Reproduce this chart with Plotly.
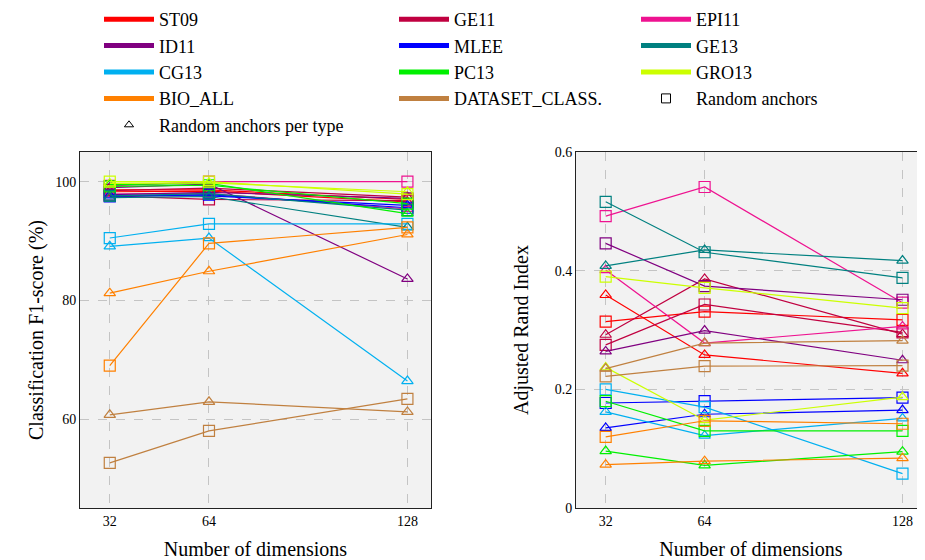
import plotly.graph_objects as go

DIMS = [32, 64, 128]
DATASETS = ["ST09", "GE11", "EPI11", "ID11", "MLEE", "GE13", "CG13",
            "PC13", "GRO13", "BIO_ALL", "DATASET_CLASS."]
COLORS = ["#FF0000", "#C00040", "#EE1290", "#800080", "#0000FF", "#008080",
          "#00B0F0", "#00F000", "#CCFF00", "#FF8000", "#C08040"]

# Classification F1-score (%) - random anchors (squares)
F1_RANDOM = [
    [98.6, 98.6, 97.0],   # ST09
    [97.6, 97.0, 96.8],   # GE11
    [99.3, 100.0, 100.0], # EPI11
    [97.8, 98.2, 97.2],   # ID11
    [97.5, 97.8, 95.6],   # MLEE
    [97.6, 98.0, 95.2],   # GE13
    [90.5, 92.9, 92.9],   # CG13
    [99.2, 99.4, 96.3],   # PC13
    [100.0, 100.0, 97.9], # GRO13
    [69.0, 89.6, 92.3],   # BIO_ALL
    [52.6, 58.0, 63.4],   # DATASET_CLASS.
]
# Classification F1-score (%) - random anchors per type (triangles)
F1_PER_TYPE = [
    [98.3, 98.4, 96.6],
    [98.5, 98.9, 97.4],
    [97.9, 98.0, 95.4],
    [99.0, 99.6, 83.6],
    [97.7, 97.6, 96.0],
    [97.3, 97.5, 92.3],
    [89.1, 90.5, 66.4],
    [99.5, 99.7, 94.6],
    [99.7, 99.8, 98.3],
    [81.2, 84.9, 91.1],
    [60.7, 62.9, 61.2],
]
# Adjusted Rand Index - random anchors (squares)
ARI_RANDOM = [
    [0.314, 0.331, 0.317],
    [0.275, 0.343, 0.296],
    [0.492, 0.541, 0.346],
    [0.446, 0.374, 0.351],
    [0.177, 0.180, 0.186],
    [0.516, 0.431, 0.388],
    [0.200, 0.170, 0.058],
    [0.180, 0.130, 0.130],
    [0.390, 0.371, 0.337],
    [0.120, 0.147, 0.142],
    [0.222, 0.239, 0.240],
]
# Adjusted Rand Index - random anchors per type (triangles)
ARI_PER_TYPE = [
    [0.359, 0.258, 0.227],
    [0.292, 0.386, 0.293],
    [0.401, 0.278, 0.306],
    [0.264, 0.299, 0.249],
    [0.135, 0.158, 0.165],
    [0.408, 0.435, 0.417],
    [0.162, 0.122, 0.151],
    [0.096, 0.072, 0.095],
    [0.237, 0.148, 0.187],
    [0.073, 0.079, 0.084],
    [0.235, 0.278, 0.282],
]

LEGEND_OF = {"ST09": "legend", "ID11": "legend", "CG13": "legend", "BIO_ALL": "legend",
             "GE11": "legend2", "MLEE": "legend2", "PC13": "legend2", "DATASET_CLASS.": "legend2",
             "EPI11": "legend3", "GE13": "legend3", "GRO13": "legend3"}

FONT = "Liberation Serif"
fig = go.Figure()

for name, col, f1s, f1t, ars, art in zip(DATASETS, COLORS, F1_RANDOM, F1_PER_TYPE,
                                         ARI_RANDOM, ARI_PER_TYPE):
    for ys, sym, size, xa, ya in [(f1s, "square-open", 11, "x", "y"),
                                  (f1t, "triangle-up-open", 10, "x", "y"),
                                  (ars, "square-open", 11, "x2", "y2"),
                                  (art, "triangle-up-open", 10, "x2", "y2")]:
        fig.add_trace(go.Scatter(
            x=DIMS, y=ys, mode="lines+markers", xaxis=xa, yaxis=ya,
            line=dict(color=col, width=1.2),
            marker=dict(symbol=sym, size=size, color=col, line=dict(color=col, width=1.2)),
            showlegend=False, name=name))

# legend entries
for name, col in zip(DATASETS, COLORS):
    fig.add_trace(go.Scatter(x=[None], y=[None], mode="lines", name=name,
                             line=dict(color=col, width=5), legend=LEGEND_OF[name]))
fig.add_trace(go.Scatter(x=[None], y=[None], mode="markers", name="Random anchors",
                         marker=dict(symbol="square-open", size=9, color="black",
                                     line=dict(color="black", width=1)),
                         legend="legend3"))
fig.add_trace(go.Scatter(x=[None], y=[None], mode="markers", name="Random anchors per type",
                         marker=dict(symbol="triangle-up-open", size=8, color="black",
                                     line=dict(color="black", width=1)),
                         legend="legend"))

# page offset of the figure inside the html body
OFF = 8
FW, FH = 925, 560
L, R = 80 - OFF, FW - (926 - OFF)
T, B = 152 - OFF, FH - (508 - OFF)
W, H = FW - L - R, FH - T - B


def px_x(page_x):
    return (page_x - OFF - L) / W


def px_y(page_y):
    return 1 + (T - (page_y - OFF)) / H


legend_common = dict(orientation="v", xanchor="left", yanchor="top",
                     font=dict(family=FONT, size=18, color="black"),
                     itemwidth=50, bgcolor="rgba(0,0,0,0)", tracegroupgap=0,
                     y=px_y(1))

axis_common = dict(showline=True, mirror=True, linecolor="#222", linewidth=1,
                   showgrid=True, gridcolor="#C4C4C4", gridwidth=1.3, griddash="dash",
                   zeroline=False, ticks="", tickfont=dict(family=FONT, size=14, color="black"),
                   title_font=dict(family=FONT, size=20, color="black"))

fig.update_layout(
    width=FW, height=FH,
    margin=dict(l=L, r=R, t=T, b=B, autoexpand=False),
    paper_bgcolor="white", plot_bgcolor="#F2F2F2",
    font=dict(family=FONT, color="black"),
    legend=dict(x=px_x(99), **legend_common),
    legend2=dict(x=px_x(394), **legend_common),
    legend3=dict(x=px_x(636), **legend_common),
    xaxis=dict(domain=[0, px_x(431)], range=[22.4, 135.6], tickvals=DIMS,
               title=dict(text="Number of dimensions", standoff=14), **axis_common),
    yaxis=dict(domain=[0, 1], range=[45, 105], tickvals=[60, 80, 100],
               title=dict(text="Classification F1-score (%)", standoff=6), **axis_common),
    xaxis2=dict(domain=[px_x(576), 1], range=[22.4, 135.6], tickvals=DIMS, anchor="y2",
                title=dict(text="Number of dimensions", standoff=14), **axis_common),
    yaxis2=dict(domain=[0, 1], range=[0, 0.6], tickvals=[0, 0.2, 0.4, 0.6], anchor="x2",
                tickformat=".1~f",
                title=dict(text="Adjusted Rand Index", standoff=20), **axis_common),
)

fig.write_html("out.html")
